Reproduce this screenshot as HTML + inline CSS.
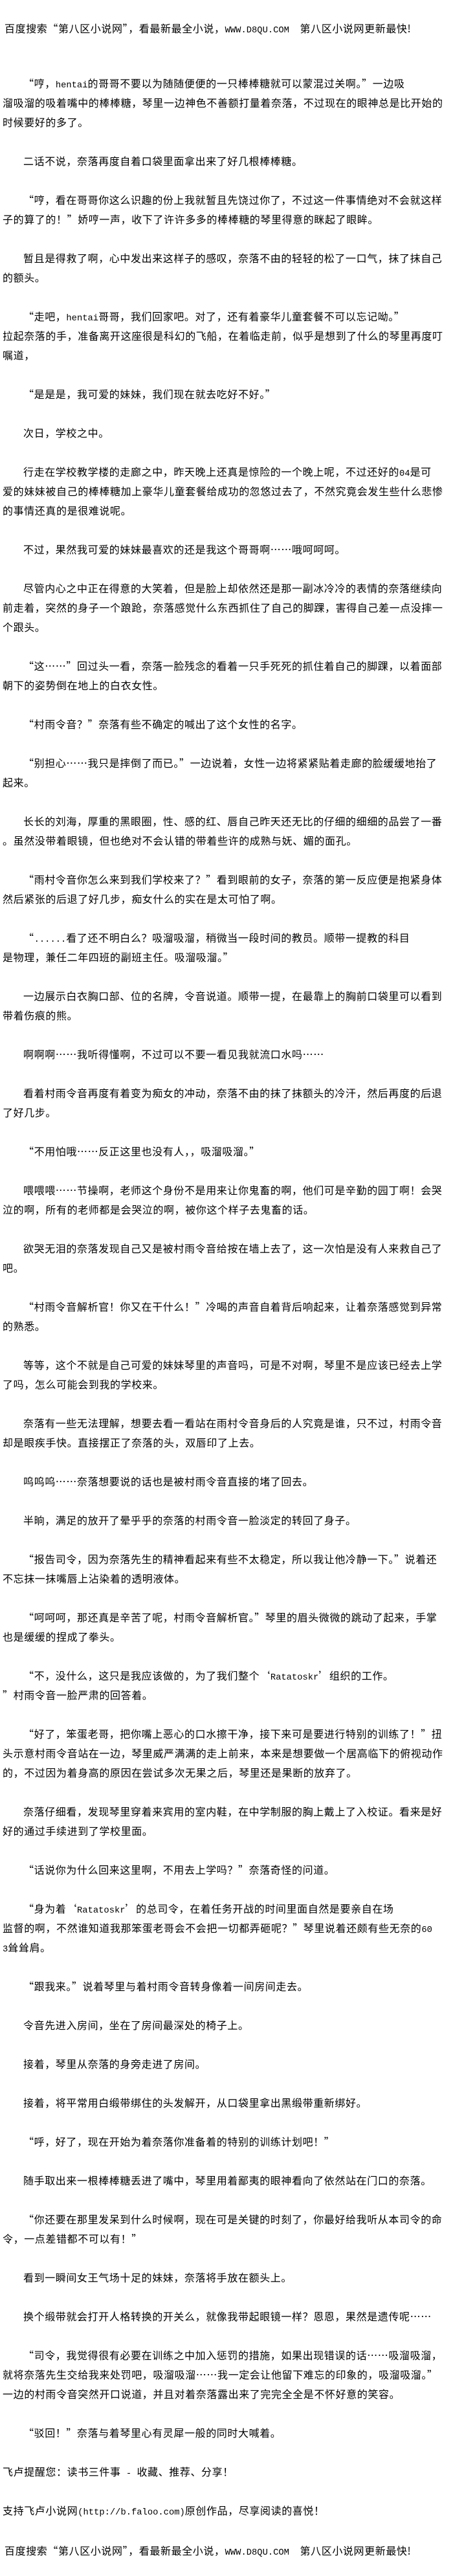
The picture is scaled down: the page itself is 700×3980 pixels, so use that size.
<!DOCTYPE html>
<html><head><meta charset="utf-8"><style>
html,body{margin:0;padding:0;background:#fff;}
body{width:700px;height:3980px;position:relative;overflow:hidden;color:#000;
font-family:"Noto Sans CJK SC","WenQuanYi Zen Hei",sans-serif;font-size:16px;letter-spacing:0.6px;}
.l{height:30px;line-height:30px;white-space:nowrap;padding-left:4px;}
.i{padding-left:36px;}
.m{font-family:"Liberation Mono",monospace;font-size:13.8px;letter-spacing:0;}
#main{position:absolute;left:0;top:113px;width:700px;}
.h{position:absolute;left:7px;height:30px;line-height:30px;white-space:nowrap;}
</style></head><body>
<div class="h" style="top:28px">百度搜索“第八区小说网”，看最新最全小说，<span class="m">WWW.D8QU.COM&nbsp;&nbsp;</span>第八区小说网更新最快!</div>
<div id="main">
<div class="l i">“哼，<span class="m">hentai</span>的哥哥不要以为随随便便的一只棒棒糖就可以蒙混过关啊。”一边吸</div>
<div class="l">溜吸溜的吸着嘴中的棒棒糖，琴里一边神色不善额打量着奈落，不过现在的眼神总是比开始的</div>
<div class="l">时候要好的多了。</div>
<div class="l"></div>
<div class="l i">二话不说，奈落再度自着口袋里面拿出来了好几根棒棒糖。</div>
<div class="l"></div>
<div class="l i">“哼，看在哥哥你这么识趣的份上我就暂且先饶过你了，不过这一件事情绝对不会就这样</div>
<div class="l">子的算了的！”娇哼一声，收下了许许多多的棒棒糖的琴里得意的眯起了眼眸。</div>
<div class="l"></div>
<div class="l i">暂且是得救了啊，心中发出来这样子的感叹，奈落不由的轻轻的松了一口气，抹了抹自己</div>
<div class="l">的额头。</div>
<div class="l"></div>
<div class="l i">“走吧，<span class="m">hentai</span>哥哥，我们回家吧。对了，还有着豪华儿童套餐不可以忘记呦。”</div>
<div class="l">拉起奈落的手，准备离开这座很是科幻的飞船，在着临走前，似乎是想到了什么的琴里再度叮</div>
<div class="l">嘱道，</div>
<div class="l"></div>
<div class="l i">“是是是，我可爱的妹妹，我们现在就去吃好不好。”</div>
<div class="l"></div>
<div class="l i">次日，学校之中。</div>
<div class="l"></div>
<div class="l i">行走在学校教学楼的走廊之中，昨天晚上还真是惊险的一个晚上呢，不过还好的<span class="m">04</span>是可</div>
<div class="l">爱的妹妹被自己的棒棒糖加上豪华儿童套餐给成功的忽悠过去了，不然究竟会发生些什么悲惨</div>
<div class="l">的事情还真的是很难说呢。</div>
<div class="l"></div>
<div class="l i">不过，果然我可爱的妹妹最喜欢的还是我这个哥哥啊……哦呵呵呵。</div>
<div class="l"></div>
<div class="l i">尽管内心之中正在得意的大笑着，但是脸上却依然还是那一副冰冷冷的表情的奈落继续向</div>
<div class="l">前走着，突然的身子一个踉跄，奈落感觉什么东西抓住了自己的脚踝，害得自己差一点没摔一</div>
<div class="l">个跟头。</div>
<div class="l"></div>
<div class="l i">“这……”回过头一看，奈落一脸残念的看着一只手死死的抓住着自己的脚踝，以着面部</div>
<div class="l">朝下的姿势倒在地上的白衣女性。</div>
<div class="l"></div>
<div class="l i">“村雨令音？”奈落有些不确定的喊出了这个女性的名字。</div>
<div class="l"></div>
<div class="l i">“别担心……我只是摔倒了而已。”一边说着，女性一边将紧紧贴着走廊的脸缓缓地抬了</div>
<div class="l">起来。</div>
<div class="l"></div>
<div class="l i">长长的刘海，厚重的黑眼圈，性、感的红、唇自己昨天还无比的仔细的细细的品尝了一番</div>
<div class="l">。虽然没带着眼镜，但也绝对不会认错的带着些许的成熟与妩、媚的面孔。</div>
<div class="l"></div>
<div class="l i">“雨村令音你怎么来到我们学校来了？”看到眼前的女子，奈落的第一反应便是抱紧身体</div>
<div class="l">然后紧张的后退了好几步，痴女什么的实在是太可怕了啊。</div>
<div class="l"></div>
<div class="l i">“<span class="m">......</span>看了还不明白么？吸溜吸溜，稍微当一段时间的教员。顺带一提教的科目</div>
<div class="l">是物理，兼任二年四班的副班主任。吸溜吸溜。”</div>
<div class="l"></div>
<div class="l i">一边展示白衣胸口部、位的名牌，令音说道。顺带一提，在最靠上的胸前口袋里可以看到</div>
<div class="l">带着伤痕的熊。</div>
<div class="l"></div>
<div class="l i">啊啊啊……我听得懂啊，不过可以不要一看见我就流口水吗……</div>
<div class="l"></div>
<div class="l i">看着村雨令音再度有着变为痴女的冲动，奈落不由的抹了抹额头的冷汗，然后再度的后退</div>
<div class="l">了好几步。</div>
<div class="l"></div>
<div class="l i">“不用怕哦……反正这里也没有人，，吸溜吸溜。”</div>
<div class="l"></div>
<div class="l i">喂喂喂……节操啊，老师这个身份不是用来让你鬼畜的啊，他们可是辛勤的园丁啊！会哭</div>
<div class="l">泣的啊，所有的老师都是会哭泣的啊，被你这个样子去鬼畜的话。</div>
<div class="l"></div>
<div class="l i">欲哭无泪的奈落发现自己又是被村雨令音给按在墙上去了，这一次怕是没有人来救自己了</div>
<div class="l">吧。</div>
<div class="l"></div>
<div class="l i">“村雨令音解析官！你又在干什么！”冷喝的声音自着背后响起来，让着奈落感觉到异常</div>
<div class="l">的熟悉。</div>
<div class="l"></div>
<div class="l i">等等，这个不就是自己可爱的妹妹琴里的声音吗，可是不对啊，琴里不是应该已经去上学</div>
<div class="l">了吗，怎么可能会到我的学校来。</div>
<div class="l"></div>
<div class="l i">奈落有一些无法理解，想要去看一看站在雨村令音身后的人究竟是谁，只不过，村雨令音</div>
<div class="l">却是眼疾手快。直接摆正了奈落的头，双唇印了上去。</div>
<div class="l"></div>
<div class="l i">呜呜呜……奈落想要说的话也是被村雨令音直接的堵了回去。</div>
<div class="l"></div>
<div class="l i">半晌，满足的放开了晕乎乎的奈落的村雨令音一脸淡定的转回了身子。</div>
<div class="l"></div>
<div class="l i">“报告司令，因为奈落先生的精神看起来有些不太稳定，所以我让他冷静一下。”说着还</div>
<div class="l">不忘抹一抹嘴唇上沾染着的透明液体。</div>
<div class="l"></div>
<div class="l i">“呵呵呵，那还真是辛苦了呢，村雨令音解析官。”琴里的眉头微微的跳动了起来，手掌</div>
<div class="l">也是缓缓的捏成了拳头。</div>
<div class="l"></div>
<div class="l i">“不，没什么，这只是我应该做的，为了我们整个‘<span class="m">Ratatoskr</span>’组织的工作。</div>
<div class="l">”村雨令音一脸严肃的回答着。</div>
<div class="l"></div>
<div class="l i">“好了，笨蛋老哥，把你嘴上恶心的口水擦干净，接下来可是要进行特别的训练了！”扭</div>
<div class="l">头示意村雨令音站在一边，琴里威严满满的走上前来，本来是想要做一个居高临下的俯视动作</div>
<div class="l">的，不过因为着身高的原因在尝试多次无果之后，琴里还是果断的放弃了。</div>
<div class="l"></div>
<div class="l i">奈落仔细看，发现琴里穿着来宾用的室内鞋，在中学制服的胸上戴上了入校证。看来是好</div>
<div class="l">好的通过手续进到了学校里面。</div>
<div class="l"></div>
<div class="l i">“话说你为什么回来这里啊，不用去上学吗？”奈落奇怪的问道。</div>
<div class="l"></div>
<div class="l i">“身为着‘<span class="m">Ratatoskr</span>’的总司令，在着任务开战的时间里面自然是要亲自在场</div>
<div class="l">监督的啊，不然谁知道我那笨蛋老哥会不会把一切都弄砸呢？”琴里说着还颇有些无奈的<span class="m">60</span></div>
<div class="l"><span class="m">3</span>耸耸肩。</div>
<div class="l"></div>
<div class="l i">“跟我来。”说着琴里与着村雨令音转身像着一间房间走去。</div>
<div class="l"></div>
<div class="l i">令音先进入房间，坐在了房间最深处的椅子上。</div>
<div class="l"></div>
<div class="l i">接着，琴里从奈落的身旁走进了房间。</div>
<div class="l"></div>
<div class="l i">接着，将平常用白缎带绑住的头发解开，从口袋里拿出黑缎带重新绑好。</div>
<div class="l"></div>
<div class="l i">“呼，好了，现在开始为着奈落你准备着的特别的训练计划吧！”</div>
<div class="l"></div>
<div class="l i">随手取出来一根棒棒糖丢进了嘴中，琴里用着鄙夷的眼神看向了依然站在门口的奈落。</div>
<div class="l"></div>
<div class="l i">“你还要在那里发呆到什么时候啊，现在可是关键的时刻了，你最好给我听从本司令的命</div>
<div class="l">令，一点差错都不可以有！”</div>
<div class="l"></div>
<div class="l i">看到一瞬间女王气场十足的妹妹，奈落将手放在额头上。</div>
<div class="l"></div>
<div class="l i">换个缎带就会打开人格转换的开关么，就像我带起眼镜一样？恩恩，果然是遗传呢……</div>
<div class="l"></div>
<div class="l i">“司令，我觉得很有必要在训练之中加入惩罚的措施，如果出现错误的话……吸溜吸溜，</div>
<div class="l">就将奈落先生交给我来处罚吧，吸溜吸溜……我一定会让他留下难忘的印象的，吸溜吸溜。”</div>
<div class="l">一边的村雨令音突然开口说道，并且对着奈落露出来了完完全全是不怀好意的笑容。</div>
<div class="l"></div>
<div class="l i">“驳回！”奈落与着琴里心有灵犀一般的同时大喊着。</div>
<div class="l"></div>
<div class="l">飞卢提醒您：读书三件事<span class="m"> - </span>收藏、推荐、分享！</div>
<div class="l"></div>
<div class="l">支持飞卢小说网<span class="m">(http://b.faloo.com)</span>原创作品，尽享阅读的喜悦！</div>
</div>
<div class="h" style="top:3925px">百度搜索“第八区小说网”，看最新最全小说，<span class="m">WWW.D8QU.COM&nbsp;&nbsp;</span>第八区小说网更新最快!</div>
</body></html>
